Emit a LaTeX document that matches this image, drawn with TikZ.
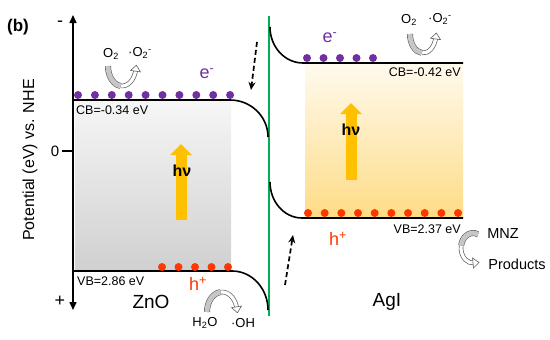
\documentclass[tikz,border=0pt]{standalone}
\usepackage{fontspec}
\setmainfont{Liberation Sans}
\usetikzlibrary{arrows.meta, decorations.markings}

\definecolor{elec}{RGB}{112,48,160}
\definecolor{hole}{RGB}{255,55,0}
\definecolor{junction}{RGB}{0,176,80}
\definecolor{photon}{RGB}{255,192,0}
\definecolor{grayhi}{RGB}{246,246,246}
\definecolor{graylo}{RGB}{208,208,208}
\definecolor{yellowhi}{RGB}{255,250,238}
\definecolor{yellowlo}{RGB}{254,220,135}

\tikzset{
  band/.style={line width=1.6pt, black},
  photonarrow/.style={photon, line width=11pt, -{Triangle[width=21pt, length=11pt]}},
  transfer/.style={dash pattern=on 5pt off 3pt, line width=1.7pt, -{Stealth[length=8pt, width=7pt]}},
  lvl/.style={font=\fontsize{12.5}{14}\selectfont, inner sep=0pt},
  species/.style={font=\fontsize{13}{15}\selectfont, inner sep=0pt},
  carrier/.style={font=\fontsize{18}{20}\selectfont, inner sep=0pt},
  material/.style={font=\fontsize{19}{21}\selectfont, inner sep=0pt},
  hv/.style={font=\bfseries\fontsize{16}{18}\selectfont, inner sep=0pt}
}

% curved reaction arrow: centre, x radius, y radius, start angle, end angle
\newcommand{\turnarrow}[5]{%
  \pgfmathsetmacro{\turnmid}{(#4+#5)/2}
  \draw[line width=4.6pt, gray!75!black] (#1) ++(\turnmid:#2 and #3) arc[start angle=\turnmid, end angle=#5, x radius=#2, y radius=#3];
  \draw[line width=3.2pt, white] (#1) ++(\turnmid:#2 and #3) arc[start angle=\turnmid, end angle=#5, x radius=#2, y radius=#3];
  \draw[line width=6pt, gray!75!black] (#1) ++(#4:#2 and #3) arc[start angle=#4, end angle=\turnmid, x radius=#2, y radius=#3];
  \draw[line width=4.8pt, gray!45] (#1) ++(#4:#2 and #3) arc[start angle=#4, end angle=\turnmid, x radius=#2, y radius=#3];
  \path[decorate, decoration={markings, mark=at position 0.999 with {\draw[gray!75!black, fill=white, line width=0.6pt] (-1pt,-5pt) -- (5pt,0pt) -- (-1pt,5pt) -- cycle;}}]
    (#1) ++(\turnmid:#2 and #3) arc[start angle=\turnmid, end angle=#5, x radius=#2, y radius=#3];
}

\begin{document}
\begin{tikzpicture}[x=1pt, y=-1pt]
  \useasboundingbox (0,0) rectangle (550,340);

  % band gaps
  \shade[top color=grayhi, bottom color=graylo] (75,101) rectangle (231,270);
  \shade[top color=yellowhi, bottom color=yellowlo] (305,64) rectangle (463,217);

  % excitation
  \draw[photonarrow] (181,220) -- (181,144);
  \draw[photonarrow] (351,180) -- (351,103);
  \node[hv] (hvZ) at (182,171) {hν};
  \node[hv] (hvA) at (351,130) {hν};

  % potential axis
  \draw[line width=1.5pt, {Triangle[length=8pt, width=7pt]}-{Triangle[length=8pt, width=7pt]}] (73,310) -- (73,15);
  \draw[line width=1.5pt] (62,151) -- (73,151);
  \node[font=\fontsize{15}{17}\selectfont, inner sep=0pt] (zero) at (55,151) {0};
  \node[font=\fontsize{18}{20}\selectfont, inner sep=0pt] (minus) at (60,24) {-};
  \node[font=\fontsize{18}{20}\selectfont, inner sep=0pt] (plus) at (60,301) {+};
  \node[font=\fontsize{16}{18}\selectfont, rotate=90, inner sep=0pt] (ylab) at (30,160) {Potential (eV) vs. NHE};
  \node[font=\bfseries\fontsize{17}{19}\selectfont, inner sep=0pt] (tag) at (18,27) {(b)};

  % interface
  \draw[junction, line width=1.8pt] (269,16) -- (269,316);

  % ZnO bands
  \draw[band] (73,100) -- (230,100) arc[start angle=270, end angle=360, x radius=38, y radius=37];
  \draw[band] (73,271) -- (232,271) arc[start angle=270, end angle=360, x radius=36, y radius=39];
  % AgI bands
  \draw[band] (270,27) arc[start angle=180, end angle=90, x radius=33, y radius=36] -- (463,63);
  \draw[band] (270,182) arc[start angle=180, end angle=90, x radius=32, y radius=36] -- (463,218);

  % carriers
  \foreach \i in {0,...,9} \fill[elec] (78+16.9*\i,95) circle[radius=4];
  \foreach \i in {0,...,4} \fill[elec] (307+16.5*\i,58) circle[radius=4];
  \foreach \i in {0,...,4} \fill[hole] (162+16.5*\i,267) circle[radius=4];
  \foreach \i in {0,...,9} \fill[hole] (308+16.67*\i,213) circle[radius=4];

  \node[carrier, text=elec] (eZ) at (207,74) {e\textsuperscript{-}};
  \node[carrier, text=elec] (eA) at (330,38) {e\textsuperscript{-}};
  \node[carrier, text=hole] (hZ) at (198,284) {h\textsuperscript{+}};
  \node[carrier, text=hole] (hA) at (338,239) {h\textsuperscript{+}};

  % band edge values
  \node[lvl, anchor=west] (cbZ) at (76,110) {CB=-0.34 eV};
  \node[lvl, anchor=west] (vbZ) at (77,281) {VB=2.86 eV};
  \node[lvl, anchor=east] (cbA) at (461,72) {CB=-0.42 eV};
  \node[lvl, anchor=east] (vbA) at (461,229) {VB=2.37 eV};

  \node[material] (ZnO) at (151,302) {ZnO};
  \node[material] (AgI) at (387,302) {AgI};

  % charge transfer
  \coordinate (eFrom) at (257,42);
  \coordinate (eTo) at (251,90);
  \coordinate (hFrom) at (285,285);
  \coordinate (hTo) at (293,235);
  \draw[transfer] (eFrom) -- (eTo);
  \draw[transfer] (hFrom) -- (hTo);

  % surface reactions
  \node[species] (o2Z) at (111,54) {O\textsubscript{2}};
  \node[species] (radZ) at (140,53) {·O\textsubscript{2}\textsuperscript{-}};
  \turnarrow{122,66}{14}{20}{180}{12}
  \node[species] (o2A) at (409,20) {O\textsubscript{2}};
  \node[species] (radA) at (440,19) {·O\textsubscript{2}\textsuperscript{-}};
  \turnarrow{423,34}{13}{19}{180}{12}
  \node[species] (h2o) at (205,323) {H\textsubscript{2}O};
  \node[species] (oh) at (243,323) {·OH};
  \turnarrow{222,312}{15}{20}{180}{348}
  \node[font=\fontsize{14.5}{16}\selectfont, inner sep=0pt] (mnz) at (503,234) {MNZ};
  \node[font=\fontsize{14.5}{16}\selectfont, inner sep=0pt] (prod) at (517,264) {Products};
  \turnarrow{473,248}{12}{15}{295}{85}
\end{tikzpicture}
\end{document}
